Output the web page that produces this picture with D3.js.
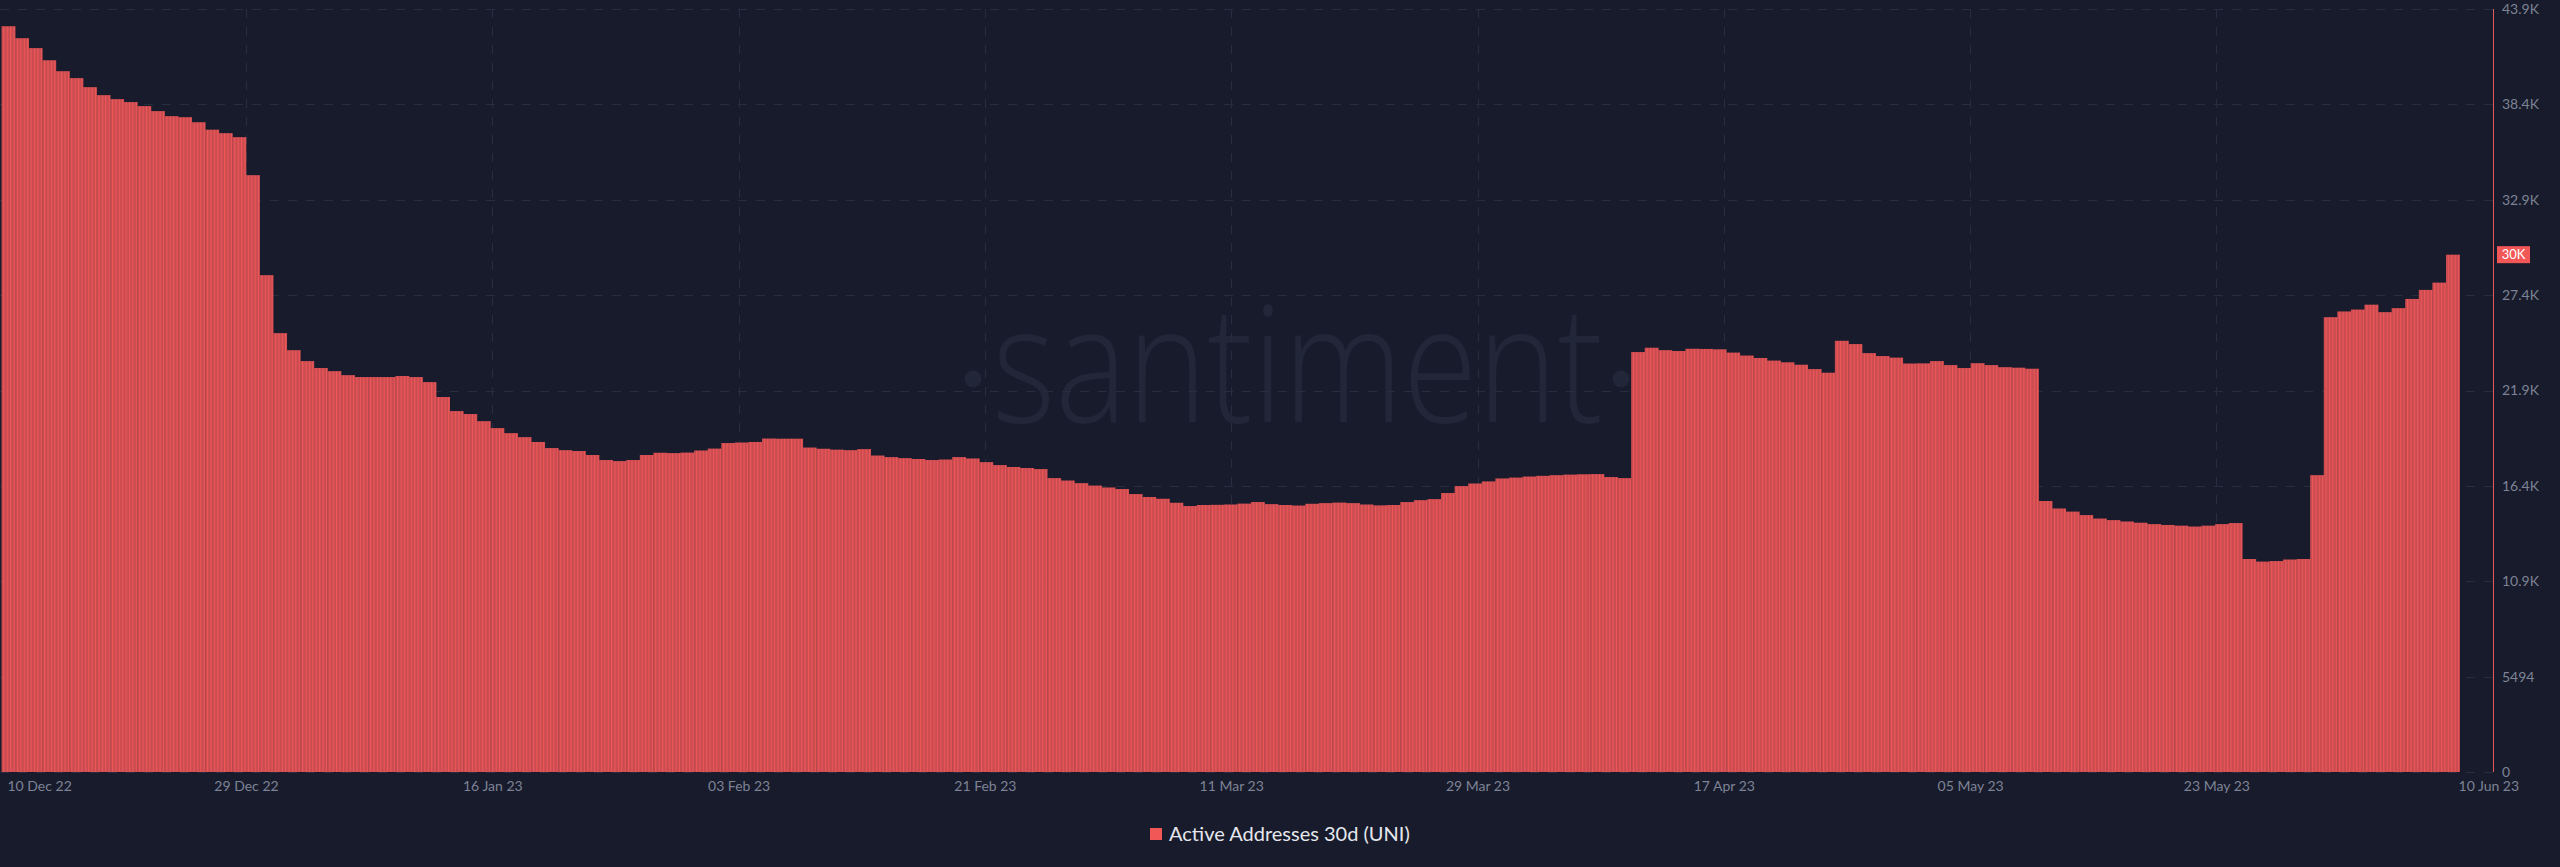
<!DOCTYPE html>
<html><head><meta charset="utf-8">
<script src="https://cdn.jsdelivr.net/npm/d3@7"></script>
<style>html,body{margin:0;padding:0;background:#181b2b;overflow:hidden}</style>
</head><body><svg id="c" width="2560" height="867"></svg>
<script>
// ---- data ----
const startDate = "2022-12-11T06:00:00Z"; // first daily bar
const values = [
42960,42270,41700,41000,40370,39970,39450,38990,38760,38590,
38360,38070,37780,37720,37430,37000,36800,36570,34380,28620,
25280,24300,23670,23270,23090,22860,22750,22750,22750,22810,
22750,22460,21600,20790,20620,20210,19810,19520,19290,19010,
18660,18540,18490,18260,17970,17910,17970,18260,18390,18370,
18400,18520,18630,18950,18980,19010,19210,19200,19200,18690,
18620,18570,18540,18600,18230,18140,18080,18030,17970,18000,
18140,18060,17850,17680,17570,17510,17450,16930,16790,16640,
16500,16390,16300,16010,15840,15740,15510,15320,15380,15390,
15410,15460,15550,15430,15380,15350,15450,15490,15520,15490,
15410,15360,15380,15550,15660,15720,16070,16470,16620,16740,
16910,16960,17020,17060,17100,17130,17150,17160,16990,16930,
24190,24440,24300,24250,24380,24370,24350,24160,23990,23850,
23700,23600,23460,23210,23000,24840,24650,24130,23960,23870,
23530,23540,23670,23440,23270,23550,23440,23320,23290,23230,
15610,15180,15000,14800,14600,14510,14430,14360,14280,14230,
14190,14140,14190,14280,14340,12270,12120,12150,12240,12270,
17100,26200,26530,26640,26920,26490,26720,27250,27770,28190,
29800
];
const yTickValues = [0,5494,10988,16482,21976,27470,32964,38458,43952];
const yTickLabels = ["0","5494","10.9K","16.4K","21.9K","27.4K","32.9K","38.4K","43.9K"];
const xTickTimes = ["2022-12-10T12:00:00Z","2022-12-29T06:00:00Z","2023-01-16T09:17:00Z","2023-02-03T12:34:00Z",
  "2023-02-21T15:51:00Z","2023-03-11T19:08:00Z","2023-03-29T22:25:00Z","2023-04-17T01:42:00Z",
  "2023-05-05T04:59:00Z","2023-05-23T08:16:00Z","2023-06-10T11:33:00Z"];
const xTickLabels = ["10 Dec 22","29 Dec 22","16 Jan 23","03 Feb 23","21 Feb 23","11 Mar 23","29 Mar 23",
  "17 Apr 23","05 May 23","23 May 23","10 Jun 23"];
const seriesName = "Active Addresses 30d (UNI)";
const watermark = "santiment";

// ---- layout ----
const plotLeft = 0, plotRight = 2493, plotTop = 9, plotBottom = 772;
const bg = "#181b2b", gridColor = "#272c3e", axisText = "#7d8396", red = "#f25757";

const svg = d3.select("#c");
svg.append("rect").attr("width",2560).attr("height",867).attr("fill",bg);

const x = d3.scaleUtc()
  .domain([new Date("2022-12-29T06:00:00Z"), new Date("2023-05-23T08:16:00Z")])
  .range([246, 2216.4]);
const y = d3.scaleLinear().domain([0, 43952]).range([plotBottom, plotTop]);

const defs = svg.append("defs");
defs.append("clipPath").attr("id","clip").append("rect")
  .attr("x",plotLeft).attr("y",0).attr("width",plotRight-plotLeft).attr("height",plotBottom);
const pat = defs.append("pattern").attr("id","stripes").attr("patternUnits","userSpaceOnUse")
  .attr("width",3.395).attr("height",20);
pat.append("rect").attr("width",3.395).attr("height",20).attr("fill","#c94c51");
pat.append("rect").attr("x",0).attr("width",1.1).attr("height",20).attr("fill","#f05757");

// watermark
const wm = svg.append("g").attr("fill","#212638");
wm.append("text").attr("x",992).attr("y",422)
  .attr("font-family","'Open Sans', sans-serif").attr("font-weight",300).attr("font-size",163)
  .attr("textLength",611).attr("lengthAdjust","spacingAndGlyphs").text(watermark);
wm.append("circle").attr("cx",973).attr("cy",379).attr("r",8.5);
wm.append("circle").attr("cx",1621).attr("cy",379).attr("r",8.5);

// grid
const grid = svg.append("g").attr("stroke",gridColor).attr("stroke-width",1).attr("stroke-dasharray","9 9");
grid.selectAll("line.h").data(yTickValues).join("line").attr("class","h")
  .attr("x1",plotLeft).attr("x2",plotRight)
  .attr("y1",d=>Math.round(y(d))+0.5).attr("y2",d=>Math.round(y(d))+0.5);
const tickDates = xTickTimes.map(t=>new Date(t));
grid.selectAll("line.v").data(tickDates.slice(1,-1)).join("line").attr("class","v")
  .attr("x1",d=>Math.round(x(d))+0.5).attr("x2",d=>Math.round(x(d))+0.5)
  .attr("y1",plotTop).attr("y2",plotBottom);

// bars
const start = new Date(startDate);
const bars = values.map((v,i)=>({d:d3.utcDay.offset(start,i), v}));
svg.append("g").attr("clip-path","url(#clip)")
  .selectAll("rect").data(bars).join("rect")
  .attr("x",b=>x(b.d))
  .attr("width",b=>x(d3.utcDay.offset(b.d,1))-x(b.d)+0.3)
  .attr("y",b=>y(b.v))
  .attr("height",b=>plotBottom-y(b.v))
  .attr("fill","url(#stripes)");

// y axis
const yAxis = svg.append("g").attr("transform",`translate(${plotRight},0)`)
  .call(d3.axisRight(y).tickValues(yTickValues).tickFormat((d,i)=>yTickLabels[i]).tickSize(0).tickPadding(9));
yAxis.select(".domain").remove();
yAxis.selectAll("text").attr("fill",axisText).attr("font-size",14).attr("font-family","Lato, sans-serif");
svg.append("line").attr("x1",plotRight+0.5).attr("x2",plotRight+0.5).attr("y1",plotTop).attr("y2",plotBottom)
  .attr("stroke","#e3585b").attr("stroke-width",1);

// x axis
const xAxis = svg.append("g").attr("transform",`translate(0,${plotBottom})`)
  .call(d3.axisBottom(x).tickValues(tickDates).tickFormat((d,i)=>xTickLabels[i]).tickSize(0).tickPadding(9));
xAxis.select(".domain").remove();
xAxis.selectAll("text").attr("fill",axisText).attr("font-size",14).attr("font-family","Lato, sans-serif");
const n = tickDates.length;
xAxis.selectAll(".tick").each(function(d,i){
  const t = d3.select(this).select("text");
  if(i===0){ t.attr("text-anchor","start").attr("x",7 - x(d)); }
  if(i===n-1){ t.attr("text-anchor","start").attr("x",2458 - x(d)); }
});

// last value badge
const last = values[values.length-1];
const by = y(last);
svg.append("rect").attr("x",plotRight+4).attr("y",by-8.5).attr("width",33).attr("height",17).attr("fill",red);
svg.append("text").attr("x",plotRight+4+16.5).attr("y",by).attr("dy","0.35em").attr("text-anchor","middle")
  .attr("fill","#ffffff").attr("font-size",13).attr("font-family","Lato, sans-serif")
  .text(Math.round(last/1000)+"K");

// legend
const lg = svg.append("g");
lg.append("rect").attr("x",1150).attr("y",828).attr("width",12).attr("height",12).attr("fill",red);
const lt = lg.append("text").attr("x",1169).attr("y",840.5).attr("fill","#e5e7ed")
  .attr("font-size",17).attr("font-family","Lato, sans-serif").text(seriesName);
const w = lt.node().getComputedTextLength();
lt.attr("font-size",17*241/w);
</script></body></html>
